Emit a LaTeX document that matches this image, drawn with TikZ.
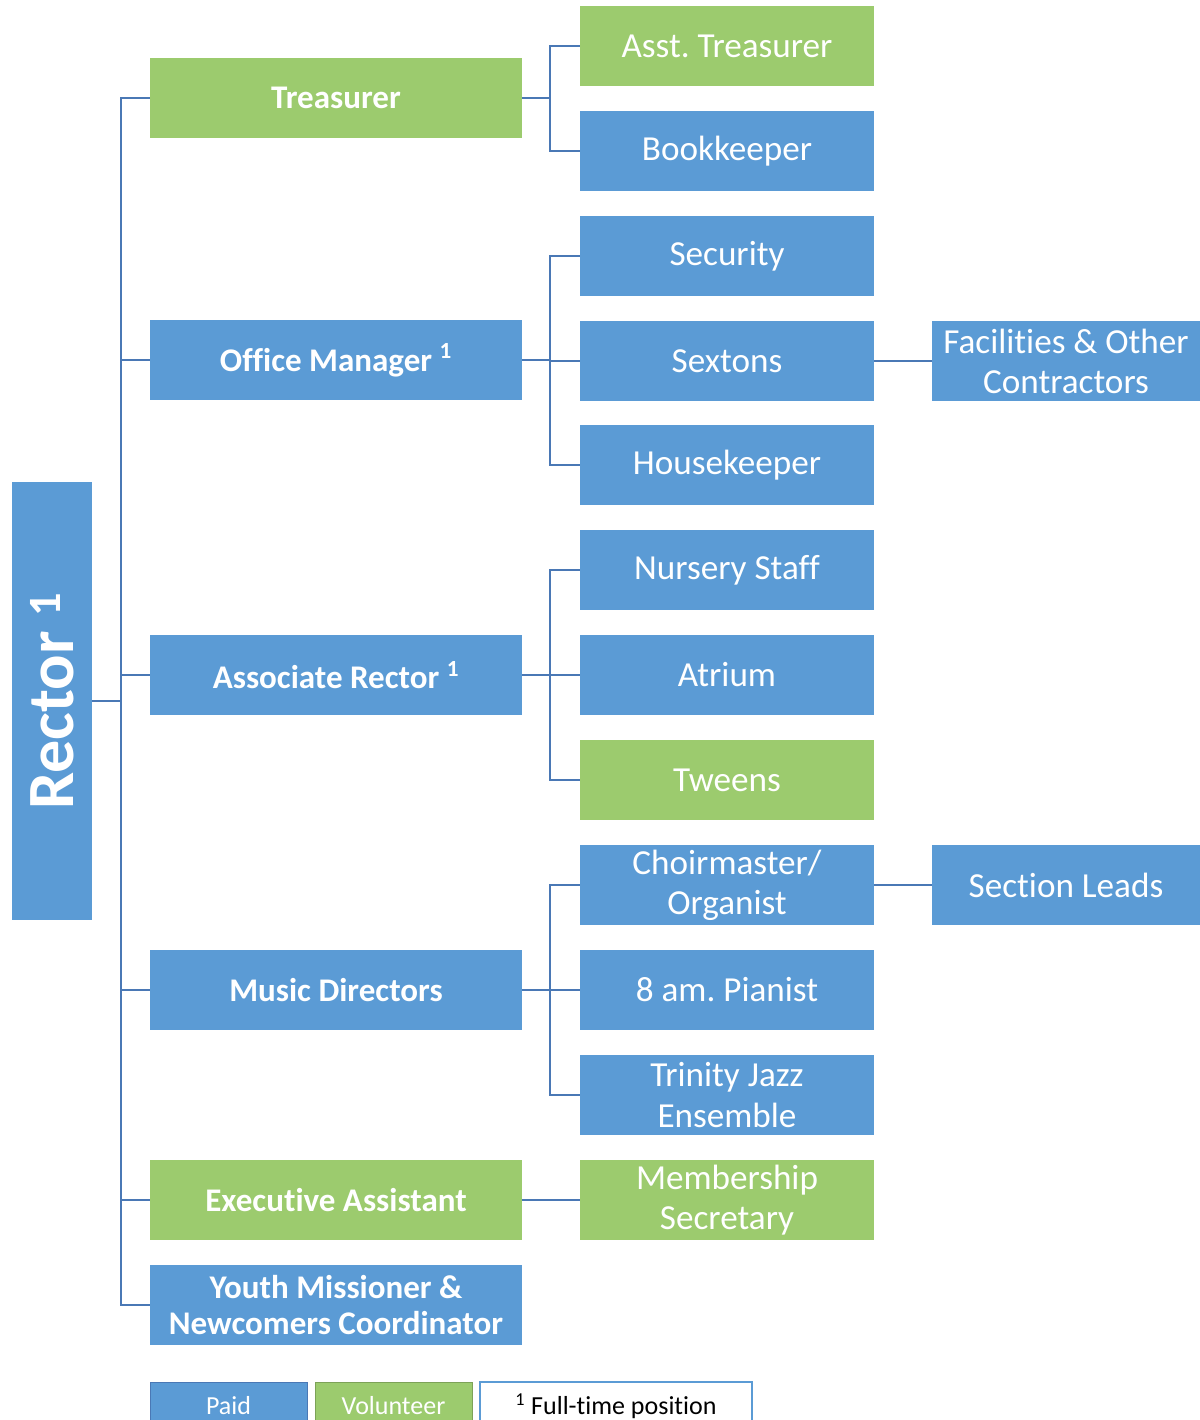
\documentclass[tikz,border=0pt]{standalone}
\usepackage{fontspec}
\setmainfont{Carlito}[Ligatures=NoCommon]
\usetikzlibrary{positioning}
\frenchspacing

\definecolor{paidblue}{HTML}{5B9BD5}
\definecolor{volgreen}{HTML}{9CCB6E}
\definecolor{linkblue}{HTML}{4A78B5}

\tikzset{
  paid/.style={fill=paidblue, text=white, inner sep=0pt},
  volunteer/.style={fill=volgreen, text=white, inner sep=0pt},
  head/.style={minimum width=9.3cm, minimum height=2cm, align=center,
    font=\bfseries\fontsize{23.5}{26}\selectfont},
  staff/.style={minimum width=7.35cm, minimum height=2cm, align=center,
    font=\fontsize{25}{28.5}\selectfont},
  outer/.style={minimum width=6.7cm, minimum height=2cm, align=center,
    font=\fontsize{25}{28.5}\selectfont},
  key/.style={minimum width=3.925cm, minimum height=1.2cm,
    font=\fontsize{18.5}{20}\selectfont},
  link/.style={draw=linkblue, line width=1.6pt},
}

\begin{document}
\begin{tikzpicture}[x=0.025cm, y=-0.025cm]
            \useasboundingbox (0,0) rectangle (1200,1420);

            \node[paid, minimum width=2cm, minimum height=10.925cm,
                font=\bfseries\fontsize{47}{50}\selectfont] (Rector) at (52,701)
                {\rotatebox{90}{Rector \textsuperscript{1}}};

            \node[head,volunteer] (Treasurer) at (336,98) {Treasurer};
            \node[head,paid] (Office Manager) at (336,360) {Office Manager \textsuperscript{1}};
            \node[head,paid] (Associate Rector) at (336,675) {Associate Rector \textsuperscript{1}};
            \node[head,paid] (Music Directors) at (336,990) {Music Directors};
            \node[head,volunteer] (Executive Assistant) at (336,1200) {Executive Assistant};
            \node[head,paid] (Youth Missioner) at (336,1305) {Youth Missioner \&\\Newcomers Coordinator};

            \node[staff,volunteer] (Asst Treasurer) at (727,46) {Asst. Treasurer};
            \node[staff,paid] (Bookkeeper) at (727,151) {Bookkeeper};
            \node[staff,paid] (Security) at (727,256) {Security};
            \node[staff,paid] (Sextons) at (727,361) {Sextons};
            \node[staff,paid] (Housekeeper) at (727,465) {Housekeeper};
            \node[staff,paid] (Nursery Staff) at (727,570) {Nursery Staff};
            \node[staff,paid] (Atrium) at (727,675) {Atrium};
            \node[staff,volunteer] (Tweens) at (727,780) {Tweens};
            \node[staff,paid] (Choirmaster) at (727,885) {Choirmaster/\\Organist};
            \node[staff,paid] (Pianist) at (727,990) {8 am. Pianist};
            \node[staff,paid] (Jazz Ensemble) at (727,1095) {Trinity Jazz\\Ensemble};
            \node[staff,volunteer] (Membership Secretary) at (727,1200) {Membership\\Secretary};

            \node[outer,paid] (Facilities) at (1066,361) {Facilities \& Other\\Contractors};
            \node[outer,paid] (Section Leads) at (1066,885) {Section Leads};

            \foreach \n in {Treasurer, Office Manager, Associate Rector, Music Directors,
                Executive Assistant, Youth Missioner}
                \draw[link] (Rector.east) -- ++(29,0) |- (\n.west);

            \foreach \n in {Asst Treasurer, Bookkeeper}
                \draw[link] (Treasurer.east) -- ++(28,0) |- (\n.west);
            \foreach \n in {Security, Sextons, Housekeeper}
                \draw[link] (Office Manager.east) -- ++(28,0) |- (\n.west);
            \foreach \n in {Nursery Staff, Atrium, Tweens}
                \draw[link] (Associate Rector.east) -- ++(28,0) |- (\n.west);
            \foreach \n in {Choirmaster, Pianist, Jazz Ensemble}
                \draw[link] (Music Directors.east) -- ++(28,0) |- (\n.west);
            \draw[link] (Executive Assistant) -- (Membership Secretary);
            \draw[link] (Sextons) -- (Facilities);
            \draw[link] (Choirmaster) -- (Section Leads);

            \node[key,paid,draw=linkblue] (Paid) at (228.5,1406) {Paid};
            \node[key,volunteer,draw=volgreen!80!black] (Volunteer) at (393.5,1406) {Volunteer};
            \node[key,draw=paidblue,line width=1.4pt,fill=white,minimum width=6.8cm] (Full Time) at (616,1406)
                {\textsuperscript{1} Full-time position};
        \end{tikzpicture}
\end{document}
